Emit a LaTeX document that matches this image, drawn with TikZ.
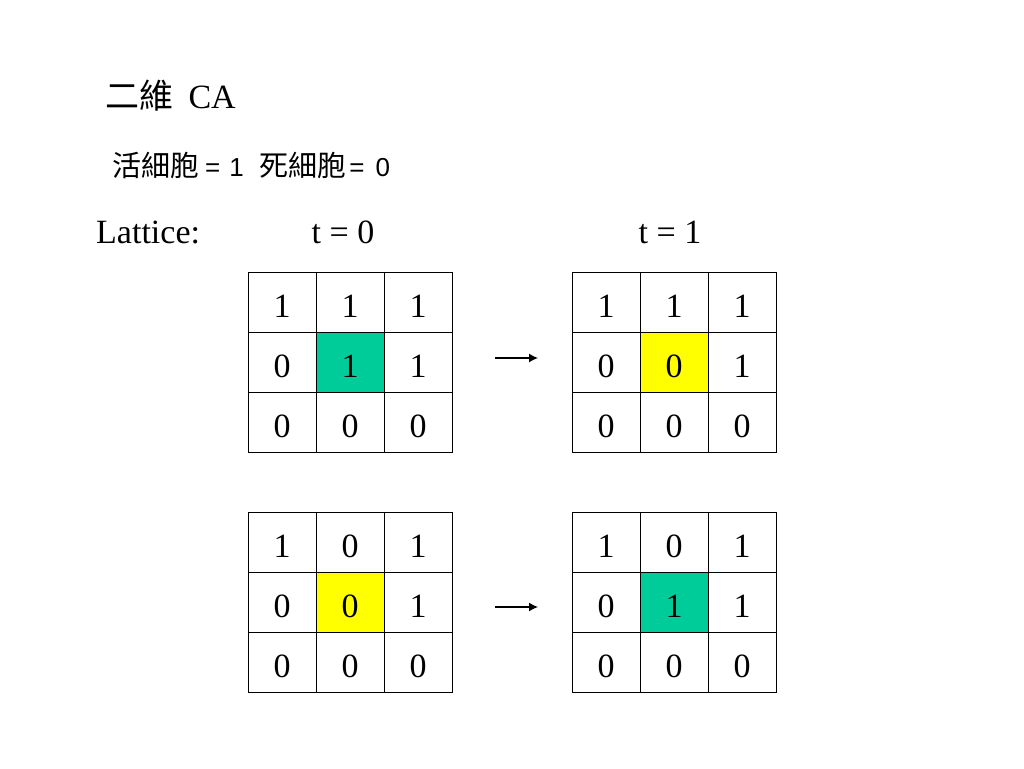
\documentclass[tikz,border=0pt]{standalone}
\usepackage{fontspec}
\setmainfont{Liberation Serif}
\newfontfamily\arial{Liberation Sans}
\newfontfamily\cjk{Noto Sans CJK TC}
\usepackage{xcolor}
\usetikzlibrary{positioning, arrows.meta}

\definecolor{livecell}{RGB}{0,204,153}
\definecolor{flipcell}{RGB}{255,255,0}

\begin{document}
\begin{tikzpicture}[
    x=1pt, y=-1pt,
    >={Latex[length=9pt,width=9pt]},
    cell/.style={
        draw, line width=1pt, minimum width=68pt, minimum height=60pt,
        text height=30pt, text depth=0pt,
        inner sep=0pt, outer sep=0pt, font=\fontsize{34}{40}\selectfont
    },
    label/.style={inner sep=0pt, font=\fontsize{34}{40}\selectfont},
    arr/.style={->, line width=1.3pt},
]
\useasboundingbox (0,0) rectangle (1024,768);

% Titles
\node[label, anchor=base west] (title) at (105,108) {{\cjk 二維}\hspace{0.45em}CA};
\node[inner sep=0pt, anchor=base west] (legend) at (112,176)
    {\arial\fontsize{26}{30}\selectfont
     {\cjk\fontsize{29}{32}\selectfont 活細胞}\hspace{6pt}=\hspace{9pt}1\hspace{15.5pt}%
     {\cjk\fontsize{29}{32}\selectfont 死細胞}\hspace{3pt}=\hspace{11pt}0};
\node[label, anchor=base west] (lattice) at (96,243) {Lattice:};
\node[label, anchor=base] (tzero) at (343,243) {t = 0};
\node[label, anchor=base] (tone) at (670,243) {t = 1};

% Top left lattice (t = 0)
\foreach \v/\f [count=\k from 0] in {1/white,1/white,1/white,0/white,1/livecell,1/white,0/white,0/white,0/white} {
    \pgfmathtruncatemacro{\r}{int(\k/3)}
    \pgfmathtruncatemacro{\c}{mod(\k,3)}
    \node[cell, fill=\f] (a\r\c) at (282+68*\c, 302+60*\r) {\v};
}

% Top right lattice (t = 1)
\foreach \v/\f [count=\k from 0] in {1/white,1/white,1/white,0/white,0/flipcell,1/white,0/white,0/white,0/white} {
    \pgfmathtruncatemacro{\r}{int(\k/3)}
    \pgfmathtruncatemacro{\c}{mod(\k,3)}
    \node[cell, fill=\f] (b\r\c) at (606+68*\c, 302+60*\r) {\v};
}

% Bottom left lattice (t = 0)
\foreach \v/\f [count=\k from 0] in {1/white,0/white,1/white,0/white,0/flipcell,1/white,0/white,0/white,0/white} {
    \pgfmathtruncatemacro{\r}{int(\k/3)}
    \pgfmathtruncatemacro{\c}{mod(\k,3)}
    \node[cell, fill=\f] (c\r\c) at (282+68*\c, 542+60*\r) {\v};
}

% Bottom right lattice (t = 1)
\foreach \v/\f [count=\k from 0] in {1/white,0/white,1/white,0/white,1/livecell,1/white,0/white,0/white,0/white} {
    \pgfmathtruncatemacro{\r}{int(\k/3)}
    \pgfmathtruncatemacro{\c}{mod(\k,3)}
    \node[cell, fill=\f] (d\r\c) at (606+68*\c, 542+60*\r) {\v};
}

% Step arrows
\coordinate (top-from) at (495,358);
\coordinate (top-to) at (538,358);
\coordinate (bot-from) at (495,607);
\coordinate (bot-to) at (538,607);
\draw[arr] (top-from) -- (top-to);
\draw[arr] (bot-from) -- (bot-to);

\end{tikzpicture}
\end{document}
